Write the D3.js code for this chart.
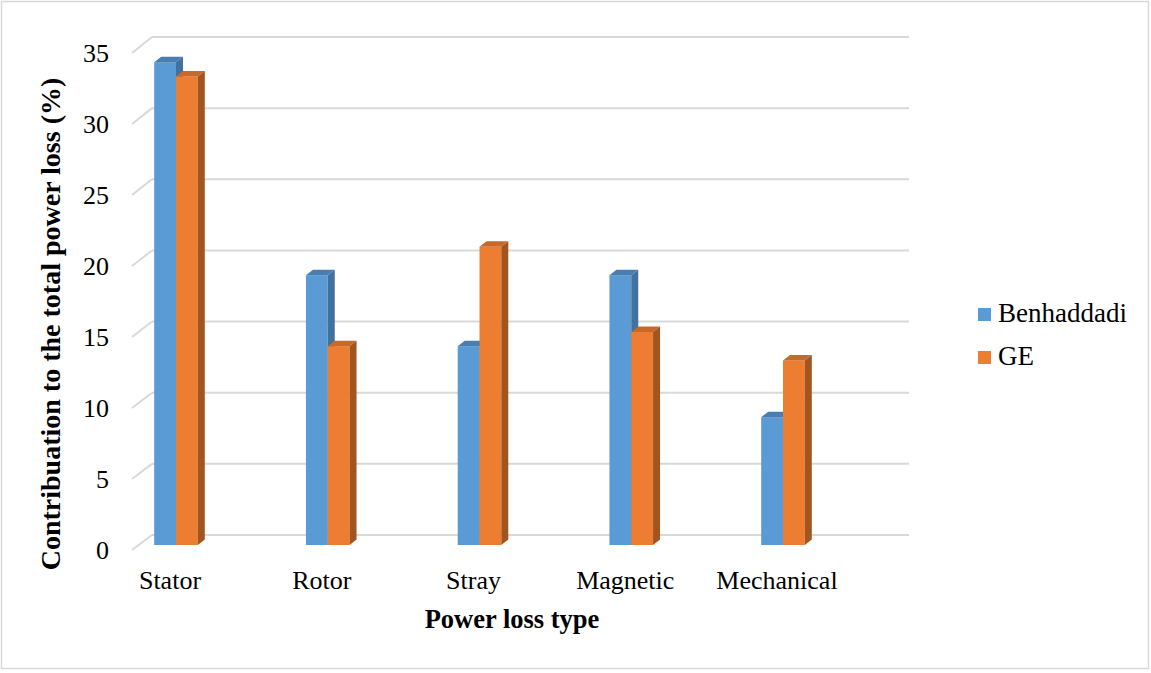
<!DOCTYPE html>
<html><head><meta charset="utf-8">
<script src="https://cdn.jsdelivr.net/npm/d3@7"></script>
<style>body{margin:0;background:#fff}svg{display:block}text{font-family:"Liberation Serif","Times New Roman",serif;fill:#000}</style>
</head><body><svg id="c" width="1151" height="673"></svg>
<script>
const categories = ["Stator","Rotor","Stray","Magnetic","Mechanical"];
const seriesNames = ["Benhaddadi","GE"];
const benhaddadi = [34,19,14,19,9];
const ge = [33,14,21,15,13];
const yTicks = [0,5,10,15,20,25,30,35];

const svg = d3.select("#c");
svg.append("rect").attr("x",1.5).attr("y",1.5).attr("width",1147).attr("height",667)
  .attr("fill","#fff").attr("stroke","#d9d9d9").attr("stroke-width",1.5);

const yBack = d3.scaleLinear().domain([0,35]).range([535,37]);
const yFront = d3.scaleLinear().domain([0,35]).range([550,53]);
const yBar = d3.scaleLinear().domain([0,35]).range([545,48]);
const x = d3.scalePoint().domain(categories).range([176,783]);
const bw = 21.8, dx = 7, dy = -5.5;

// gridlines
const g = svg.append("g");
yTicks.forEach(t=>{
  g.append("line").attr("x1",152).attr("x2",909).attr("y1",yBack(t)).attr("y2",yBack(t))
    .attr("stroke","#d9d9d9").attr("stroke-width",2);
  g.append("line").attr("x1",132).attr("y1",yFront(t)).attr("x2",152).attr("y2",yBack(t))
    .attr("stroke","#d9d9d9").attr("stroke-width",2);
  svg.append("text").attr("x",109).attr("y",yFront(t)+3).attr("text-anchor","end")
    .attr("dominant-baseline","middle").attr("font-size",26).text(t);
});

const colors = [
  {front:"#5b9bd5", top:"#4a7db0", side:"#41719c"},
  {front:"#ed7d31", top:"#c8682a", side:"#a3551f"}
];
const series = [benhaddadi, ge];
categories.forEach((c,i)=>{
  series.forEach((s,k)=>{
    const x0 = x(c) - bw + k*bw, x1 = x0 + bw;
    const yt = yBar(s[i]), yb = yBar(0);
    const col = colors[k];
    svg.append("rect").attr("x",x0).attr("y",yt).attr("width",bw).attr("height",yb-yt).attr("fill",col.front);
    svg.append("path").attr("d",`M${x0},${yt}L${x0+dx},${yt+dy}L${x1+dx},${yt+dy}L${x1},${yt}Z`).attr("fill",col.top);
    svg.append("path").attr("d",`M${x1},${yt}L${x1+dx},${yt+dy}L${x1+dx},${yb+dy}L${x1},${yb}Z`).attr("fill",col.side);
  });
  svg.append("text").attr("x",x(c)-6).attr("y",589).attr("text-anchor","middle").attr("font-size",26).text(c);
});

svg.append("text").attr("x",512).attr("y",628).attr("text-anchor","middle").attr("font-size",26.5)
  .attr("font-weight","bold").text("Power loss type");
svg.append("text").attr("transform","translate(60,324) rotate(-90)").attr("text-anchor","middle")
  .attr("font-size",28).attr("font-weight","bold").text("Contribuation to the total power loss (%)");

seriesNames.forEach((n,k)=>{
  const yy = 308 + k*43;
  svg.append("rect").attr("x",978).attr("y",yy).attr("width",13).attr("height",13).attr("fill",colors[k].front);
  svg.append("text").attr("x",998).attr("y",yy+14).attr("font-size",27).text(n);
});
</script></body></html>
